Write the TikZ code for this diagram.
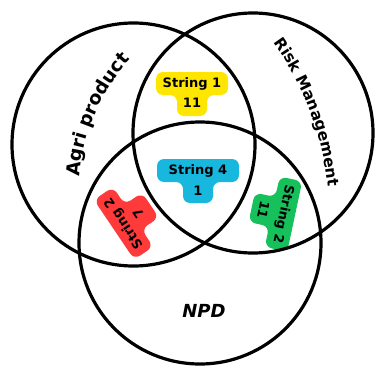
\documentclass[tikz,border=0pt]{standalone}
\usepackage{fontspec}
\setmainfont{DejaVu Sans}
\usetikzlibrary{decorations.text}

\newcommand\agrifont{\fontsize{18.5pt}{20pt}\selectfont\bfseries}
\newcommand\riskfont{\fontsize{15.5pt}{17pt}\selectfont\bfseries}

\begin{document}
\begin{tikzpicture}[x=1pt, y=1pt,
    ring/.style={draw=black, line width=3.2pt},
    tagtext/.style={font=\fontsize{13pt}{14pt}\selectfont\bfseries, inner sep=0pt},
    arclabel/.style={decorate, decoration={text along path, text align=center, text={#1}}},
    setlabel/.style={font=\fontsize{18pt}{20pt}\selectfont\bfseries\itshape},
]

\definecolor{tagyellow}{RGB}{255,230,0}
\definecolor{tagblue}{RGB}{24,184,222}
\definecolor{tagred}{RGB}{255,58,58}
\definecolor{taggreen}{RGB}{22,192,90}

\useasboundingbox (0,0) rectangle (377,365);

% ---------- tag blobs: body with a tab under it ----------
\def\tagblob#1#2#3#4#5#6#7#8{% name, centre, angle, colour, half width, line gap, line 1, line 2
  \begin{scope}[shift={#2}, rotate=#3]
    \fill[#4, rounded corners=7pt] (-#5,12) -- (#5,12) -- (#5,-11) -- (15,-11) -- (15,-32)
      -- (-15,-32) -- (-15,-11) -- (-#5,-11) -- cycle;
    \node[tagtext, rotate=#3] (#1-top) at (0,0) {#7};
    \node[tagtext, rotate=#3] (#1-bot) at (0,-#6) {#8};
  \end{scope}}

\tagblob{str1}{(192,281)}{0}{tagyellow}{36}{19}{String 1}{11}
\tagblob{str4}{(198,194)}{0}{tagblue}{41}{20}{String 4}{1}
\tagblob{str2l}{(124,142)}{124}{tagred}{36}{17}{String 2}{7}
\tagblob{str2r}{(283,151)}{-102}{taggreen}{36}{20}{String 2}{11}

% ---------- the three sets ----------
\coordinate (agri) at (133.5,220.5);
\coordinate (risk) at (253,232);
\coordinate (npd) at (200,122);
\draw[ring] (agri) circle[radius=121.5];
\draw[ring] (risk) circle[radius=120];
\draw[ring] (npd) circle[radius=121];

% ---------- set names ----------
\coordinate (agriarc) at (273,174);
\coordinate (riskarc) at (34.1,150.1);
\path[arclabel={|\agrifont|Agri product}] ([shift={(182:194)}]agriarc) arc[start angle=182, end angle=131, radius=194];
\path[arclabel={|\riskfont|Risk Management}] ([shift={(44.6:295)}]riskarc) arc[start angle=44.6, end angle=-3.4, radius=295];
\node[setlabel] (npdlabel) at (204,54) {NPD};

\end{tikzpicture}
\end{document}
